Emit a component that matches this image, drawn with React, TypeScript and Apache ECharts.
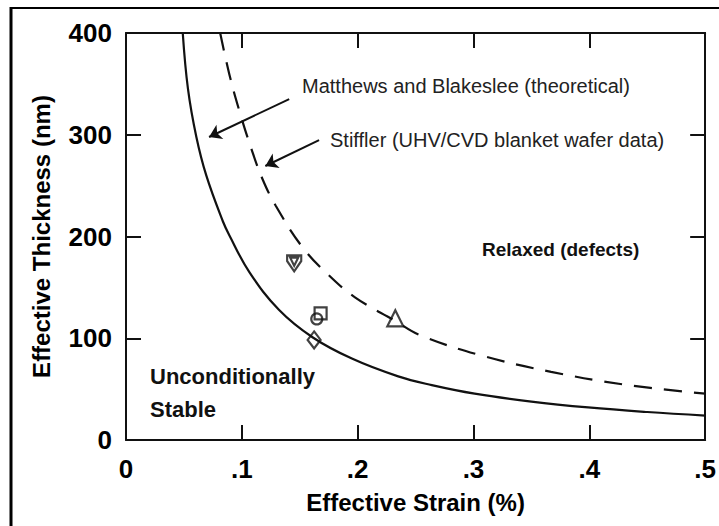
import React, { useEffect, useRef } from "react";
import * as echarts from "echarts";

// Matthews and Blakeslee (theoretical) – solid curve
const mbStrain = [0.049, 0.0535, 0.0607, 0.0693, 0.0836, 0.0893, 0.1065, 0.132, 0.161, 0.195, 0.235, 0.264, 0.301, 0.35, 0.399, 0.45, 0.5];
const mbThickness = [400, 345, 298, 260, 215, 201, 165, 128, 101, 80, 62.5, 54, 45.6, 37.8, 32, 27.5, 24];

// Stiffler (UHV/CVD blanket wafer data) – dashed curve
const stStrain = [0.0813, 0.0893, 0.098, 0.108, 0.118, 0.1294, 0.152, 0.175, 0.198, 0.2325, 0.254, 0.307, 0.367, 0.43, 0.5];
const stThickness = [400, 359, 323, 287, 256, 230, 190, 162, 140, 117, 103, 83, 67, 54.5, 45.5];

// Measured points
const markerStrain = [0.1452, 0.168, 0.1647, 0.1624, 0.2325];
const markerThickness = [173.6, 124.5, 119, 98.3, 119.6];
const markerShape = ["shield", "rect", "circle", "diamond", "triangle"];

const xTicks = [0, 0.1, 0.2, 0.3, 0.4, 0.5];
const yTicks = [0, 100, 200, 300, 400];

const FONT = "'Liberation Sans', Arial, Helvetica, sans-serif";

const SHIELD = "path://M0,0 L16,0 L16,6 L8,17 L0,6 Z M3.5,2.5 L12.5,2.5 L8,11 Z";

const symbolFor = (s: string) => {
  if (s === "shield") return { symbol: SHIELD, size: [15, 16] };
  if (s === "rect") return { symbol: "rect", size: 12 };
  if (s === "circle") return { symbol: "circle", size: 11 };
  if (s === "diamond") return { symbol: "diamond", size: [13, 17] };
  return { symbol: "triangle", size: 16 };
};

export default function App() {
  const ref = useRef<HTMLDivElement>(null);
  useEffect(() => {
    if (!ref.current) return;
    const chart = echarts.init(ref.current, undefined, { renderer: "svg" });
    const xMin = xTicks[0];
    const xMax = xTicks[xTicks.length - 1];
    const yMin = yTicks[0];
    const yMax = yTicks[yTicks.length - 1];
    const axisLine = { show: true, onZero: false, lineStyle: { color: "#111", width: 2 } };
    const axisTick = { show: true, inside: true, length: 15, lineStyle: { color: "#111", width: 2 } };
    const xFmt = (v: number) => (v === 0 ? "0" : "." + Math.round(v * 10));

    const markerSeries = markerShape.map((shape, i) => {
      const s = symbolFor(shape);
      return {
        type: "scatter",
        xAxisIndex: 0,
        yAxisIndex: 0,
        symbol: s.symbol,
        symbolSize: s.size,
        symbolKeepAspect: true,
        itemStyle: { color: "rgba(255,255,255,0)", borderColor: "#111", borderWidth: 2.2 },
        data: [[markerStrain[i], markerThickness[i]]],
        z: 5,
      };
    });

    chart.setOption({
      animation: false,
      backgroundColor: "#fff",
      grid: { left: 126, right: 11, top: 33, bottom: 86 },
      xAxis: [
        {
          type: "value",
          min: xMin,
          max: xMax,
          interval: 0.1,
          position: "bottom",
          axisLine,
          axisTick,
          splitLine: { show: false },
          axisLabel: { formatter: xFmt, fontSize: 26, fontWeight: "bold", color: "#000", margin: 16, fontFamily: FONT },
          name: "Effective Strain (%)",
          nameLocation: "middle",
          nameGap: 50,
          nameTextStyle: { fontSize: 24, fontWeight: "bold", color: "#000", fontFamily: FONT },
        },
        {
          type: "value",
          min: xMin,
          max: xMax,
          interval: 0.1,
          position: "top",
          axisLine,
          axisTick,
          splitLine: { show: false },
          axisLabel: { show: false },
        },
      ],
      yAxis: [
        {
          type: "value",
          min: yMin,
          max: yMax,
          interval: 100,
          position: "left",
          axisLine,
          axisTick,
          splitLine: { show: false },
          axisLabel: { fontSize: 26, fontWeight: "bold", color: "#000", margin: 14, fontFamily: FONT },
          name: "Effective Thickness (nm)",
          nameLocation: "middle",
          nameGap: 73,
          nameTextStyle: { fontSize: 24, fontWeight: "bold", color: "#000", fontFamily: FONT },
        },
        {
          type: "value",
          min: yMin,
          max: yMax,
          interval: 100,
          position: "right",
          axisLine,
          axisTick,
          splitLine: { show: false },
          axisLabel: { show: false },
        },
      ],
      series: [
        {
          type: "line",
          xAxisIndex: 0,
          yAxisIndex: 0,
          smooth: 0.4,
          showSymbol: false,
          lineStyle: { color: "#111", width: 2.2 },
          data: mbStrain.map((x, i) => [x, mbThickness[i]]),
        },
        {
          type: "line",
          xAxisIndex: 0,
          yAxisIndex: 0,
          smooth: 0.4,
          showSymbol: false,
          lineStyle: { color: "#111", width: 2.2, type: [18, 12] },
          data: stStrain.map((x, i) => [x, stThickness[i]]),
        },
        {
          type: "lines",
          coordinateSystem: "cartesian2d",
          xAxisIndex: 0,
          yAxisIndex: 0,
          symbol: ["none", "arrow"],
          symbolSize: 12,
          lineStyle: { color: "#111", width: 2, opacity: 1 },
          data: [
            { coords: [[0.1409, 335], [0.0717, 297.8]] },
            { coords: [[0.1667, 294.8], [0.1203, 269.3]] },
          ],
          z: 4,
        },
        ...markerSeries,
      ],
      graphic: [
        { type: "line", shape: { x1: 11, y1: 8, x2: 719, y2: 8 }, style: { stroke: "#000", lineWidth: 2 } },
        { type: "line", shape: { x1: 11, y1: 7, x2: 11, y2: 526 }, style: { stroke: "#000", lineWidth: 3 } },
        {
          type: "text",
          left: 302,
          top: 76,
          style: { text: "Matthews and Blakeslee (theoretical)", fontSize: 20, fill: "#222", fontFamily: FONT },
        },
        {
          type: "text",
          left: 330,
          top: 130,
          style: { text: "Stiffler (UHV/CVD blanket wafer data)", fontSize: 20, fill: "#222", fontFamily: FONT },
        },
        {
          type: "text",
          left: 482,
          top: 240,
          style: { text: "Relaxed (defects)", fontSize: 19, fontWeight: "bold", fill: "#111", fontFamily: FONT },
        },
        {
          type: "text",
          left: 150,
          top: 365,
          style: { text: "Unconditionally", fontSize: 22, fontWeight: "bold", fill: "#111", fontFamily: FONT },
        },
        {
          type: "text",
          left: 150,
          top: 398,
          style: { text: "Stable", fontSize: 22, fontWeight: "bold", fill: "#111", fontFamily: FONT },
        },
      ],
    });
    return () => chart.dispose();
  }, []);
  return (
    <div
      ref={ref}
      style={{ position: "fixed", left: 0, top: 0, width: 719, height: 526, background: "#fff" }}
    />
  );
}
